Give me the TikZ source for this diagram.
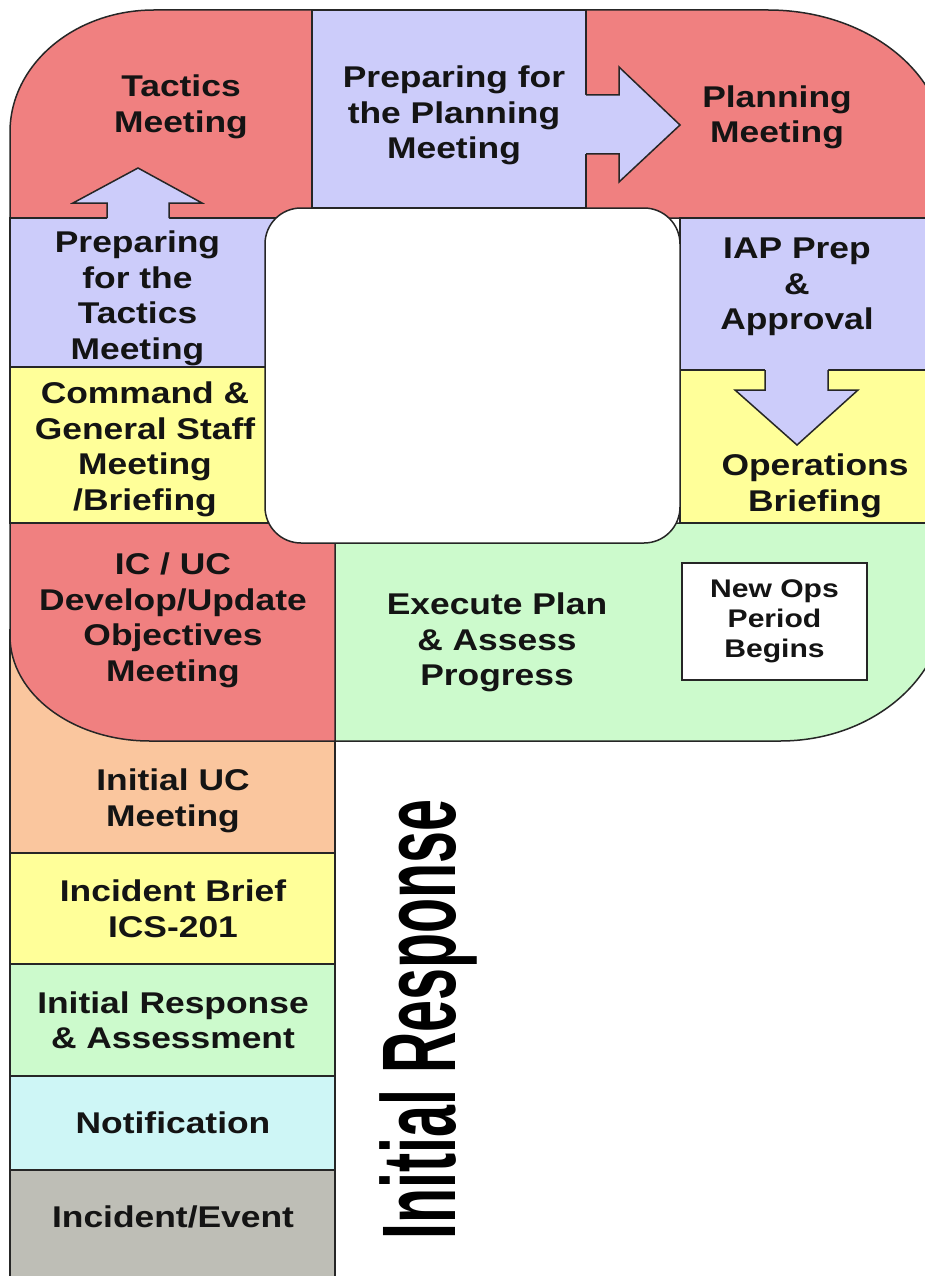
\documentclass[tikz,border=0pt]{standalone}
\usepackage{fontspec}
\setmainfont{Liberation Sans}
\usepackage{graphicx}
\definecolor{cRed}{RGB}{240,128,128}
\definecolor{cBlue}{RGB}{204,204,250}
\definecolor{cYellow}{RGB}{255,255,153}
\definecolor{cGreen}{RGB}{204,250,204}
\definecolor{cOrange}{RGB}{250,198,158}
\definecolor{cCyan}{RGB}{206,246,246}
\definecolor{cGray}{RGB}{190,190,182}
\newcommand{\lbl}[1]{\scalebox{1.18}[1]{\begin{tabular}{@{}c@{}}#1\end{tabular}}}
\begin{document}
\begin{tikzpicture}[x=1pt,y=-1pt,line join=miter,
  edge/.style={draw=black!85,line width=1.5pt},
  txt/.style={inner sep=0pt,font=\fontsize{30}{35.5}\selectfont\bfseries,text=black!92},
  smalltxt/.style={font=\fontsize{25.5}{30}\selectfont\bfseries,text=black!92},
  arrowfill/.style={fill=cBlue},
  arrowline/.style={draw=black!85,line width=1.5pt}]
\useasboundingbox (0,0) rectangle (925,1276);
\clip (0,0) rectangle (925,1276);
\fill[white] (0,0) rectangle (925,1276);

% upper ring regions
\path[edge,fill=cRed] (10,218) -- (10,132) .. controls (10,64.6) and (74.5,10) .. (154,10) -- (312,10) -- (312,218) -- cycle;
\path[edge,fill=cBlue] (312,10) rectangle (586,208);
\path[edge,fill=cRed] (586,10) -- (768,10) .. controls (865.8,10) and (945,71.8) .. (945,148) -- (945,218) -- (586,218) -- cycle;
\path[edge,fill=cBlue] (680,218) rectangle (945,370);
\path[edge,fill=cYellow] (680,370) rectangle (945,523);
\path[edge,fill=cGreen] (335,523) -- (945,523) -- (945,603) .. controls (945,679.2) and (871.1,741) .. (780,741) -- (335,741) -- cycle;
\path[edge,fill=cBlue] (10,218) rectangle (300,367);
\path[edge,fill=cYellow] (10,367) rectangle (300,523);
\path[edge,fill=cOrange] (10,630) rectangle (335,853);
\path[edge,fill=cRed] (10,523) -- (10,636) .. controls (10,694) and (72.7,741) .. (150,741) -- (335,741) -- (335,523) -- cycle;

% lower column
\path[edge,fill=cYellow] (10,853) rectangle (335,964);
\path[edge,fill=cGreen] (10,964) rectangle (335,1076);
\path[edge,fill=cCyan] (10,1076) rectangle (335,1170);
\path[edge,fill=cGray] (10,1170) rectangle (335,1290);

% inner white
\path[edge,fill=white,rounded corners=36pt] (265,208) rectangle (680,543);

% arrows
\coordinate (upA) at (107,218);
\coordinate (upB) at (169,218);
\fill[arrowfill] (107,222) -- (107,203) -- (73,203) -- (138,168) -- (202,203) -- (169,203) -- (169,222) -- cycle;
\draw[arrowline] (upA) -- (107,203) -- (73,203) -- (138,168) -- (202,203) -- (169,203) -- (upB);

\coordinate (rtA) at (586,95);
\coordinate (rtB) at (586,154);
\fill[arrowfill] (582,95) -- (619,95) -- (619,67) -- (680,125) -- (619,182) -- (619,154) -- (582,154) -- cycle;
\draw[arrowline] (rtA) -- (619,95) -- (619,67) -- (680,125) -- (619,182) -- (619,154) -- (rtB);

\coordinate (dnA) at (765,370);
\coordinate (dnB) at (828,370);
\fill[arrowfill] (765,366) -- (765,390) -- (735,390) -- (797,445) -- (858,390) -- (828,390) -- (828,366) -- cycle;
\draw[arrowline] (dnA) -- (765,390) -- (735,390) -- (797,445) -- (858,390) -- (828,390) -- (dnB);

% labels
\node[txt] (tm) at (181,107.5) {\lbl{Tactics\\Meeting}};
\node[txt] (ppm) at (454,116) {\lbl{Preparing for\\the Planning\\Meeting}};
\node[txt] (pm) at (777,118) {\lbl{Planning\\Meeting}};
\node[txt] (ppt) at (137.5,299) {\lbl{Preparing\\for the\\Tactics\\Meeting}};
\node[txt] (iap) at (797,287) {\lbl{IAP Prep\\\&\\Approval}};
\node[txt] (cgs) at (145,450) {\lbl{Command \&\\General Staff\\Meeting\\/Briefing}};
\node[txt] (ob) at (815,486.5) {\lbl{Operations\\Briefing}};
\node[txt] (icuc) at (173,621) {\lbl{IC / UC\\Develop/Update\\Objectives\\Meeting}};
\node[txt] (exec) at (497,643) {\lbl{Execute Plan\\\& Assess\\Progress}};
\node[edge,fill=white,inner sep=0pt,minimum width=185pt,minimum height=117pt,smalltxt] (newops) at (774.5,621.5) {\lbl{New Ops\\Period\\Begins}};
\node[txt] (iuc) at (173,801.5) {\lbl{Initial UC\\Meeting}};
\node[txt] (ib) at (173,912.5) {\lbl{Incident Brief\\ICS-201}};
\node[txt] (ira) at (173,1024) {\lbl{Initial Response\\\& Assessment}};
\node[txt] (notif) at (173,1126.5) {\lbl{Notification}};
\node[txt] (ie) at (173,1220) {\lbl{Incident/Event}};

\node[rotate=90,anchor=base west,inner sep=0pt,font=\fontsize{100}{100}\selectfont\bfseries,text=black] (ir) at (455,1240) {\scalebox{0.574}[1.047]{Initial Response}};
\end{tikzpicture}
\end{document}
